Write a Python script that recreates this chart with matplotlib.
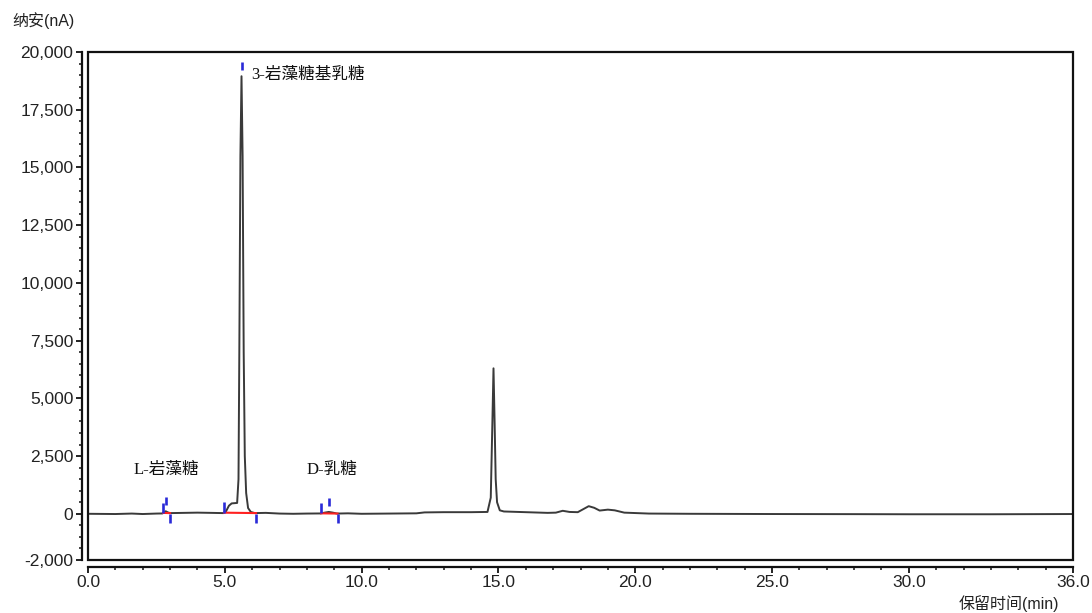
import numpy as np
import matplotlib.pyplot as plt
from matplotlib.patches import Rectangle
from matplotlib.ticker import FixedLocator, MultipleLocator, FuncFormatter

plt.rcParams['font.family'] = ['Liberation Sans', 'Noto Sans CJK SC']

# detector trace: retention time (min) / signal (nA)
time_min = [0.0, 1.0, 1.6, 2.0, 2.5, 2.72, 2.78, 2.84, 2.92, 3.0, 3.5, 4.0, 4.5,
            4.95, 5.05, 5.15, 5.25, 5.45, 5.50, 5.53, 5.57, 5.61, 5.65, 5.69,
            5.73, 5.78, 5.85, 5.95, 6.1, 6.5, 7.0, 7.5, 8.0, 8.5, 8.65, 8.8,
            8.95, 9.1, 9.5, 10.0, 11.0, 12.0, 12.3, 13.0, 14.0, 14.6, 14.72,
            14.78, 14.82, 14.86, 14.9, 14.95, 15.05, 15.2, 16.0, 16.8, 17.1,
            17.35, 17.6, 17.9, 18.1, 18.3, 18.5, 18.7, 19.0, 19.25, 19.6, 20.5,
            22.0, 25.0, 28.0, 30.0, 33.0, 36.0]
signal_na = [0, -10, 10, -10, 10, 15, 60, 110, 60, 30, 40, 50, 40,
             30, 120, 350, 450, 470, 1500, 7000, 15500, 18950, 15500, 7000,
             2500, 900, 250, 80, 30, 40, 10, 0, 10, 15, 50, 80,
             50, 10, 20, 0, 10, 20, 60, 70, 70, 80, 700,
             4000, 6300, 4000, 1500, 500, 150, 100, 70, 40, 50,
             130, 80, 70, 200, 330, 260, 140, 180, 150, 50, 10,
             0, -10, -15, -20, -20, -10]

# integrated peaks
peak_names = ['L-岩藻糖', '3-岩藻糖基乳糖', 'D-乳糖']
peak_start = [2.75, 4.97, 8.52]
peak_apex = [2.84, 5.61, 8.82]
peak_end = [3.0, 6.14, 9.12]
peak_height = [110, 18950, 80]
label_pos = [(2.85, 1900), (5.98, 19000), (8.92, 1900)]
label_ha = ['center', 'left', 'center']

fig = plt.figure(figsize=(10.92, 6.13), dpi=100)
ax = fig.add_axes([0.0806, 0.0865, 0.902, 0.8287])

ax.plot(time_min, signal_na, color='#3a3a3a', lw=1.4, zorder=3)

blue = '#2a2ad8'
t = np.array(time_min)
s = np.array(signal_na)
for i in range(len(peak_names)):
    y0 = np.interp(peak_start[i], t, s)
    y1 = np.interp(peak_end[i], t, s)
    ax.plot([peak_start[i], peak_end[i]], [y0, y1], color='#ff2020', lw=1.5, zorder=4)
    ax.vlines(peak_start[i], y0, y0 + 450, color=blue, lw=1.9, zorder=5)
    ax.vlines(peak_apex[i], peak_height[i] + 250, peak_height[i] + 600, color=blue, lw=1.9, zorder=5)
    ax.vlines(peak_end[i], y1 - 420, y1 - 30, color=blue, lw=1.9, zorder=5)
    ax.text(label_pos[i][0], label_pos[i][1], peak_names[i], ha=label_ha[i], va='center',
            fontsize=12, family=['Liberation Serif', 'Noto Sans CJK SC'], color='#111111')

ax.set_xlim(0, 36)
ax.set_ylim(-2000, 20000)

ax.xaxis.set_major_locator(FixedLocator([0, 5, 10, 15, 20, 25, 30, 36]))
ax.xaxis.set_minor_locator(MultipleLocator(1))
ax.xaxis.set_major_formatter(FuncFormatter(lambda v, p: f'{v:.1f}'))
ax.yaxis.set_major_locator(FixedLocator([-2000, 0, 2500, 5000, 7500, 10000, 12500, 15000, 17500, 20000]))
ax.yaxis.set_minor_locator(MultipleLocator(500))
ax.yaxis.set_major_formatter(FuncFormatter(lambda v, p: f'{int(v):,}'))

for side in ['top', 'right']:
    ax.spines[side].set_visible(False)
ax.spines['left'].set_position(('outward', 4.5))
ax.spines['bottom'].set_position(('outward', 5))
for side in ['left', 'bottom']:
    ax.spines[side].set_linewidth(1.6)
    ax.spines[side].set_color('#111111')

# plot frame
ax.add_patch(Rectangle((0, 0), 1, 1, transform=ax.transAxes, fill=False,
                       lw=1.6, edgecolor='#111111', clip_on=False, zorder=6))

ax.tick_params(which='major', length=4, width=1.3, labelsize=12.5, pad=2, colors='#111111')
ax.tick_params(which='minor', length=2.5, width=1.1, colors='#111111')
ax.tick_params(axis='x', labelcolor='#222222')
ax.tick_params(axis='y', labelcolor='#222222')

fig.text(0.011, 0.967, '纳安(nA)', fontsize=11.5, ha='left', va='center', color='#222222')
fig.text(0.97, 0.016, '保留时间(min)', fontsize=11.5, ha='right', va='center', color='#222222')

fig.savefig('out.png', dpi=100)
